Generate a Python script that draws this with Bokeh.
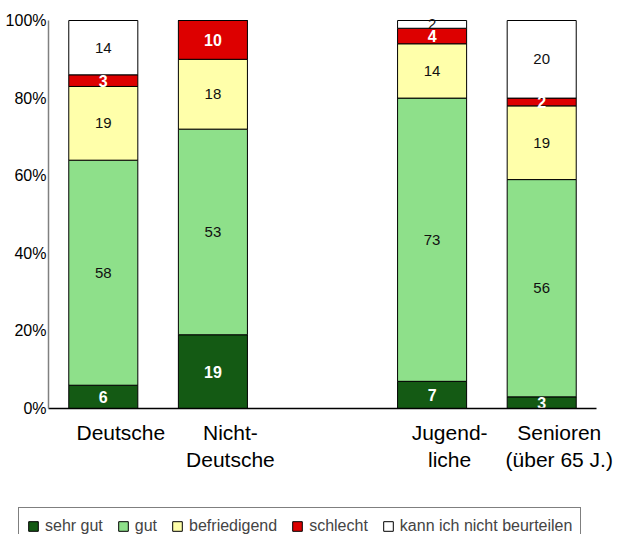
import numpy as np
from bokeh.plotting import figure
from bokeh.models import (ColumnDataSource, Range1d, FixedTicker, Legend, LegendItem)
from bokeh.core.properties import value
from bokeh.embed import file_html
from bokeh.resources import INLINE

# ---- data ----
categories = ["Deutsche", "Nicht-\nDeutsche", "Jugend-\nliche", "Senioren\n(über 65 J.)"]
positions = [0, 1, 3, 4]
series_names = ["sehr gut", "gut", "befriedigend", "schlecht", "kann ich nicht beurteilen"]
sehr_gut = [6, 19, 7, 3]
gut = [58, 53, 73, 56]
befriedigend = [19, 18, 14, 19]
schlecht = [3, 10, 4, 2]
kann_nicht = [14, 0, 2, 20]
y_ticks = [0, 20, 40, 60, 80, 100]
y_tick_labels = ["0%", "20%", "40%", "60%", "80%", "100%"]

colors = ["#145a14", "#8ee08a", "#ffffaa", "#dd0000", "#ffffff"]
white_label = [True, False, False, True, False]

SANS = "Liberation Sans"
LABEL_SHIFT = 0.16  # category labels sit a bit right of the bar centres

# ---- layout (pixels) ----
W, H = 620, 534
AX_LEFT, AX_RIGHT = 48, 596      # x extent of the value axis area
AX_TOP, AX_BOTTOM = 20, 408      # 100% and 0% lines
X_MIN, X_MAX = -0.5, 4.5
Y_MIN, Y_MAX = 0, 100
ppx = (AX_RIGHT - AX_LEFT) / (X_MAX - X_MIN)
ppy = (AX_BOTTOM - AX_TOP) / (Y_MAX - Y_MIN)
x_start = X_MIN - AX_LEFT / ppx
x_end = X_MAX + (W - AX_RIGHT) / ppx
y_start = Y_MIN - (H - AX_BOTTOM) / ppy
y_end = Y_MAX + AX_TOP / ppy

series = [sehr_gut, gut, befriedigend, schlecht, kann_nicht]
keys = ["s0", "s1", "s2", "s3", "s4"]
data = {"x": positions}
for k, s in zip(keys, series):
    data[k] = s
src = ColumnDataSource(data)

p = figure(width=W, height=H, output_backend="svg", toolbar_location=None,
           x_range=Range1d(x_start, x_end), y_range=Range1d(y_start, y_end),
           min_border=0, min_border_left=0, min_border_right=0,
           min_border_top=0, min_border_bottom=0)
p.outline_line_color = None
p.grid.visible = False

renderers = p.vbar_stack(keys, x="x", width=0.63, source=src, color=colors,
                         line_color="black", line_width=1)

# axes, pinned inside the frame
p.yaxis.fixed_location = X_MIN
p.yaxis.bounds = (Y_MIN, Y_MAX)
p.yaxis.ticker = FixedTicker(ticks=y_ticks)
p.yaxis.major_label_overrides = {t: l for t, l in zip(y_ticks, y_tick_labels)}
p.yaxis.major_tick_line_color = None
p.yaxis.minor_tick_line_color = None
p.yaxis.major_tick_out = 0
p.yaxis.major_tick_in = 0
p.yaxis.minor_tick_out = 0
p.yaxis.axis_line_color = "#808080"
p.yaxis.axis_line_width = 1.5
p.yaxis.major_label_standoff = 2
p.yaxis.major_label_text_font = SANS
p.yaxis.major_label_text_font_size = "16px"
p.yaxis.major_label_text_color = "black"

x_ticks = [xp + LABEL_SHIFT for xp in positions]
p.xaxis.fixed_location = Y_MIN
p.xaxis.bounds = (X_MIN, X_MAX)
p.xaxis.ticker = FixedTicker(ticks=x_ticks)
p.xaxis.major_label_overrides = {t: c for t, c in zip(x_ticks, categories)}
p.xaxis.axis_line_color = "black"
p.xaxis.axis_line_width = 1.5
p.xaxis.major_tick_line_color = None
p.xaxis.minor_tick_line_color = None
p.xaxis.major_tick_out = 0
p.xaxis.major_tick_in = 0
p.xaxis.minor_tick_out = 0
p.xaxis.major_label_standoff = 12
p.xaxis.major_label_text_font = SANS
p.xaxis.major_label_text_font_size = "21px"
p.xaxis.major_label_text_color = "black"
p.xaxis.major_label_text_line_height = 1.2

# value labels
arr = np.array(series, dtype=float)
tops = np.cumsum(arr, axis=0)
bottoms = tops - arr
for i in range(len(series)):
    xs, ys, ts = [], [], []
    for j, xp in enumerate(positions):
        if arr[i, j] > 0:
            xs.append(xp)
            ys.append((tops[i, j] + bottoms[i, j]) / 2)
            ts.append(str(int(arr[i, j])))
    lsrc = ColumnDataSource(dict(x=xs, y=ys, t=ts))
    if white_label[i]:
        p.text(x="x", y="y", text="t", source=lsrc, text_align="center",
               text_baseline="middle", text_color="white",
               text_font=value(SANS), text_font_style="bold",
               text_font_size="16px")
    else:
        p.text(x="x", y="y", text="t", source=lsrc, text_align="center",
               text_baseline="middle", text_color="#111111",
               text_font=value(SANS), text_font_size="15px")

# legend
lg = Legend(items=[LegendItem(label=n, renderers=[r])
                   for n, r in zip(series_names, renderers)])
lg.orientation = "horizontal"
lg.location = (18, -11)
lg.padding = 8
lg.spacing = 14
lg.label_standoff = 6
lg.glyph_width = 12
lg.glyph_height = 12
lg.label_height = 20
lg.label_text_font = SANS
lg.label_text_font_size = "16px"
lg.border_line_color = "black"
lg.border_line_width = 1
lg.background_fill_alpha = 1
lg.margin = 0
p.add_layout(lg, "center")

open("out.html", "w").write(file_html(p, INLINE))
